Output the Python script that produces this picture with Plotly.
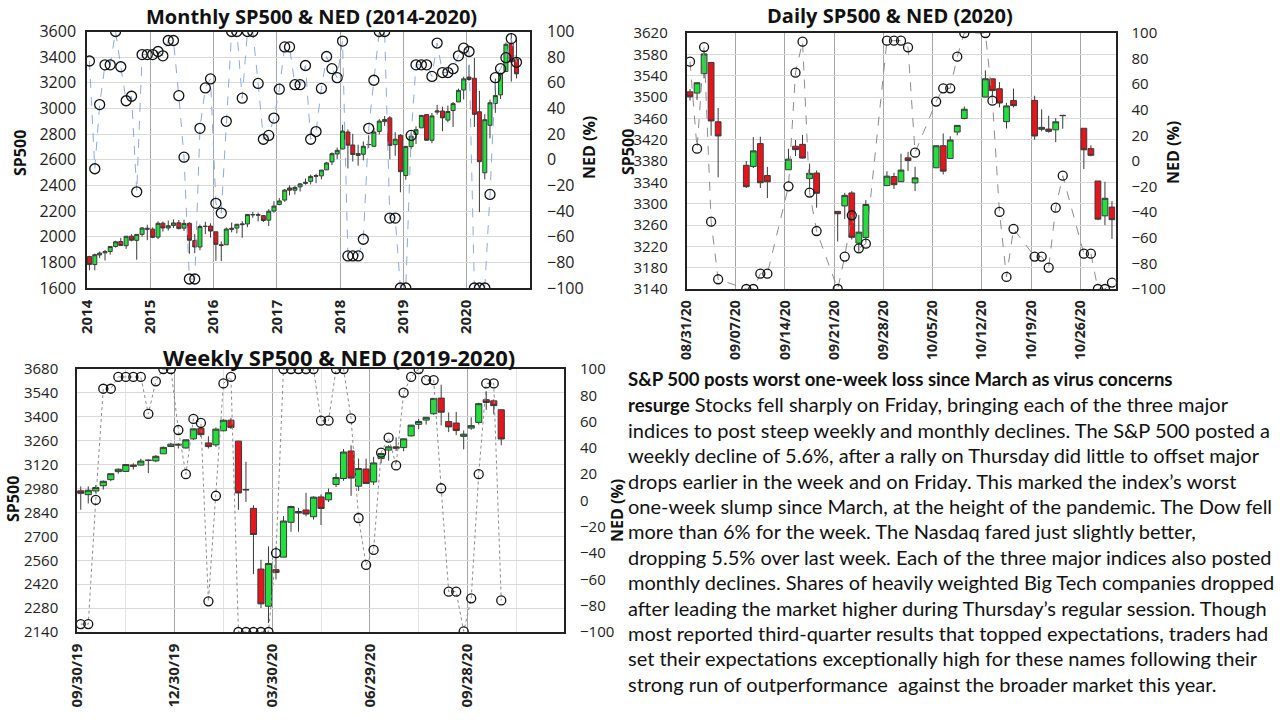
import plotly.graph_objects as go
import pandas as pd

W, H = 1280, 720

# ---------------- Monthly data (2014-01 .. 2020-10) ----------------
m_months = pd.date_range("2014-01-01", "2020-10-01", freq="MS")
m_open = [1845.9, 1782.7, 1857.7, 1873.9, 1884.4, 1923.9, 1962.3, 1929.8, 2004.1, 1971.4, 2018.2, 2065.8,
          2058.9, 1996.7, 2105.2, 2067.6, 2087.4, 2108.6, 2067.0, 2104.5, 1970.1, 1919.7, 2080.8, 2082.9,
          2038.2, 1936.9, 1937.1, 2056.6, 2067.2, 2093.9, 2099.3, 2173.1, 2171.3, 2164.3, 2129.0, 2200.2,
          2251.6, 2285.6, 2380.1, 2362.3, 2388.5, 2415.6, 2431.4, 2477.1, 2474.4, 2521.2, 2583.2, 2645.1,
          2683.7, 2816.5, 2715.2, 2633.5, 2643.0, 2718.7, 2705.0, 2821.2, 2897.0, 2926.3, 2717.6, 2790.5,
          2477.0, 2702.3, 2798.2, 2848.6, 2952.3, 2751.5, 2971.4, 2980.3, 2909.0, 2983.7, 3050.7, 3143.9,
          3244.7, 3235.7, 2974.3, 2498.1, 2869.1, 3038.8, 3105.9, 3288.3, 3507.4, 3385.9]
m_high = [1850.8, 1867.9, 1883.9, 1897.3, 1924.0, 1968.2, 1991.4, 2005.0, 2019.3, 2018.2, 2075.8, 2093.6,
          2072.4, 2119.6, 2117.5, 2125.9, 2134.7, 2129.9, 2132.8, 2112.7, 2020.9, 2094.3, 2116.5, 2104.3,
          2038.2, 1963.0, 2072.2, 2111.1, 2099.7, 2120.6, 2177.1, 2193.8, 2187.9, 2169.6, 2214.1, 2277.5,
          2301.0, 2371.5, 2401.0, 2398.2, 2418.7, 2453.8, 2484.0, 2490.9, 2519.4, 2583.0, 2657.7, 2695.0,
          2872.9, 2836.0, 2801.9, 2717.5, 2742.2, 2791.5, 2848.0, 2916.5, 2940.9, 2939.9, 2815.2, 2800.2,
          2708.0, 2813.5, 2860.3, 2949.5, 2954.1, 2964.2, 3028.0, 3013.6, 3022.0, 3050.1, 3154.3, 3247.9,
          3337.8, 3393.5, 3136.7, 2954.9, 3068.7, 3233.1, 3280.0, 3514.8, 3588.1, 3549.9]
m_low = [1737.9, 1737.9, 1834.4, 1814.4, 1859.8, 1915.0, 1930.7, 1904.8, 1964.0, 1820.7, 2001.0, 1972.6,
         1988.1, 1980.9, 2039.7, 2048.4, 2067.9, 2056.3, 2044.0, 1867.0, 1871.9, 1893.7, 2019.4, 1993.3,
         1812.3, 1810.1, 1937.1, 2033.8, 2025.9, 1991.7, 2074.0, 2147.6, 2119.1, 2114.7, 2083.8, 2187.4,
         2245.1, 2271.7, 2322.3, 2329.0, 2352.7, 2405.7, 2407.7, 2417.4, 2446.6, 2520.4, 2557.4, 2605.5,
         2682.4, 2532.7, 2585.9, 2553.8, 2594.6, 2692.0, 2699.0, 2796.3, 2864.1, 2603.5, 2631.1, 2346.6,
         2444.0, 2681.8, 2722.3, 2848.6, 2750.5, 2728.8, 2952.2, 2822.1, 2891.9, 2855.9, 3050.7, 3070.3,
         3214.6, 2855.8, 2191.9, 2447.5, 2766.6, 2965.7, 3073.2, 3284.5, 3209.5, 3233.9]
m_close = [1782.6, 1859.5, 1872.3, 1883.9, 1923.6, 1960.2, 1930.7, 2003.4, 1972.3, 2018.1, 2067.6, 2058.9,
           1995.0, 2104.5, 2067.9, 2085.5, 2107.4, 2063.1, 2103.8, 1972.2, 1920.0, 2079.4, 2080.4, 2043.9,
           1940.2, 1932.2, 2059.7, 2065.3, 2097.0, 2098.9, 2173.6, 2171.0, 2168.3, 2126.2, 2198.8, 2238.8,
           2278.9, 2363.6, 2362.7, 2384.2, 2411.8, 2423.4, 2470.3, 2471.7, 2519.4, 2575.3, 2647.6, 2673.6,
           2823.8, 2713.8, 2640.9, 2648.1, 2705.3, 2718.4, 2816.3, 2901.5, 2914.0, 2711.7, 2760.2, 2506.9,
           2704.1, 2784.5, 2834.4, 2945.8, 2752.1, 2941.8, 2980.4, 2926.5, 2976.7, 3037.6, 3141.0, 3230.8,
           3225.5, 2954.2, 2584.6, 2912.4, 3044.3, 3100.3, 3271.1, 3500.3, 3363.0, 3270.0]
m_ned = [77, -7, 43, 74, 74, 100, 72.5, 46, 49.5, -25, 82, 82,
         82, 84.4, 81, 93, 93, 50, 2, -93, -93, 24.5, 56, 63,
         -34, -41.6, 30, 100, 100, 48, 100, 100, 59.5, 16, 19, 32.5,
         55, 88, 88, 58.5, 58.5, 73.5, 16, 22, 55.6, 80.5, 71, 64,
         92.5, -75, -75, -75, -62, 24.5, 62, 100, 100, -45.5, -45.5, -100,
         -100, 19, 74, 74, 74, 65, 91, 68, 68, 71, 81, 87,
         84.4, -100, -100, -100, -27, 64, 71, 79.6, 94.5, 76]
m_x = m_months + pd.Timedelta(days=14)
m_years = ["2014", "2015", "2016", "2017", "2018", "2019", "2020"]

# ---------------- Daily data (2020-08-31 .. 2020-10-30) ----------------
d_dates = ["2020-08-31", "2020-09-01", "2020-09-02", "2020-09-03", "2020-09-04",
           "2020-09-08", "2020-09-09", "2020-09-10", "2020-09-11",
           "2020-09-14", "2020-09-15", "2020-09-16", "2020-09-17", "2020-09-18",
           "2020-09-21", "2020-09-22", "2020-09-23", "2020-09-24", "2020-09-25",
           "2020-09-28", "2020-09-29", "2020-09-30", "2020-10-01", "2020-10-02",
           "2020-10-05", "2020-10-06", "2020-10-07", "2020-10-08", "2020-10-09",
           "2020-10-12", "2020-10-13", "2020-10-14", "2020-10-15", "2020-10-16",
           "2020-10-19", "2020-10-20", "2020-10-21", "2020-10-22", "2020-10-23",
           "2020-10-26", "2020-10-27", "2020-10-28", "2020-10-29", "2020-10-30"]
d_open = [3509.7, 3507.4, 3543.8, 3564.7, 3453.6,
          3371.9, 3369.8, 3412.6, 3352.7,
          3363.6, 3407.7, 3411.2, 3346.9, 3357.4,
          3285.6, 3295.8, 3320.1, 3226.1, 3236.7,
          3333.9, 3350.9, 3341.2, 3385.9, 3338.9,
          3367.3, 3408.7, 3384.6, 3434.3, 3459.7,
          3500.0, 3534.0, 3515.5, 3453.7, 3493.5,
          3493.7, 3439.4, 3439.9, 3438.5, 3464.9,
          3441.4, 3403.2, 3342.5, 3277.2, 3293.6]
d_high = [3514.8, 3528.0, 3588.1, 3564.9, 3479.2,
          3380.0, 3424.8, 3425.6, 3369.0,
          3402.9, 3419.5, 3428.9, 3375.2, 3362.3,
          3285.6, 3320.3, 3323.4, 3278.7, 3306.9,
          3360.7, 3357.9, 3393.6, 3397.2, 3369.1,
          3409.6, 3431.6, 3426.3, 3447.3, 3482.3,
          3549.9, 3534.0, 3527.9, 3489.1, 3515.8,
          3502.4, 3476.9, 3464.9, 3460.5, 3466.5,
          3441.4, 3409.5, 3342.5, 3341.1, 3304.9]
d_low = [3493.3, 3494.6, 3535.2, 3427.4, 3349.6,
         3329.3, 3366.8, 3329.3, 3310.5,
         3363.6, 3389.3, 3384.5, 3328.8, 3292.4,
         3229.1, 3271.0, 3232.6, 3209.5, 3228.4,
         3332.9, 3327.5, 3340.5, 3361.4, 3323.7,
         3367.3, 3354.5, 3384.6, 3428.2, 3458.1,
         3499.6, 3500.9, 3480.6, 3440.9, 3480.5,
         3419.9, 3435.7, 3433.1, 3415.3, 3440.5,
         3364.9, 3388.7, 3268.9, 3259.8, 3233.9]
d_close = [3500.3, 3526.7, 3580.8, 3455.1, 3427.0,
           3331.8, 3399.0, 3339.2, 3341.0,
           3383.5, 3401.2, 3385.5, 3357.0, 3319.5,
           3281.1, 3315.6, 3236.9, 3246.6, 3298.5,
           3351.6, 3335.5, 3363.0, 3380.8, 3348.4,
           3408.6, 3361.0, 3419.4, 3446.8, 3477.1,
           3534.2, 3511.9, 3488.7, 3483.3, 3483.8,
           3426.9, 3443.1, 3435.6, 3453.5, 3465.4,
           3401.0, 3390.7, 3271.0, 3310.1, 3270.0]
d_ned = [77.6, 9.6, 89, -47.4, -92.4,
         -100, -100, -88, -88,
         -19.8, 69, 93.2, -24.7, -54.7,
         -100, -74.7, -42.4, -68.2, -64.6,
         94, 94, 94, 88.8, 6.5,
         46.4, 56.8, 56.8, 81.5, 100,
         100, 47.1, -39.8, -90.6, -53,
         -74.7, -74.7, -83.3, -36.5, -11.5,
         -72.4, -72.4, -100, -100, -95]
d_x = pd.to_datetime(d_dates) + pd.Timedelta(hours=12)

# ---------------- Weekly data (week of 2019-09-30 .. 2020-10-26) ----------------
w_weeks = pd.date_range("2019-09-30", "2020-10-26", freq="7D")
w_open = [2967.1, 2944.2, 2965.8, 2996.5, 3032.1, 3079.0, 3080.3, 3117.9, 3117.4, 3143.9, 3141.9, 3183.6, 3226.1,
          3240.1, 3217.6, 3271.1, 3333.1, 3247.2, 3235.7, 3318.3, 3380.4, 3257.6, 2974.3, 2863.9, 2508.6, 2290.7,
          2505.0, 2578.3, 2782.5, 2845.6, 2854.7, 2815.0, 2930.9, 2913.9, 3004.1, 3038.8, 3199.9, 2993.8, 3094.4,
          3018.6, 3155.3, 3205.1, 3224.3, 3219.8, 3288.3, 3356.0, 3380.9, 3418.1, 3509.7, 3371.9, 3363.6, 3285.6,
          3333.9, 3367.3, 3500.0, 3493.7, 3441.4]
w_high = [2992.5, 2993.3, 3000.4, 3027.4, 3067.0, 3097.8, 3120.5, 3127.6, 3154.3, 3150.6, 3176.3, 3225.6, 3247.9,
          3244.7, 3267.1, 3329.9, 3337.8, 3285.9, 3337.6, 3385.1, 3393.5, 3259.8, 3136.7, 2882.6, 2563.0, 2641.4,
          2641.4, 2818.6, 2879.2, 2867.0, 2954.9, 2934.3, 2945.8, 2980.3, 3068.7, 3211.7, 3233.1, 3155.5, 3155.0,
          3165.8, 3184.1, 3233.5, 3279.3, 3272.0, 3352.5, 3387.9, 3399.5, 3509.4, 3588.1, 3425.6, 3428.9, 3320.3,
          3397.2, 3482.3, 3549.9, 3502.4, 3441.4]
w_low = [2855.9, 2892.7, 2952.1, 2974.1, 3023.2, 3066.9, 3077.0, 3091.4, 3115.4, 3070.3, 3134.6, 3183.6, 3223.5,
         3214.6, 3213.4, 3263.6, 3281.5, 3214.6, 3223.6, 3315.2, 3328.5, 2855.8, 2901.5, 2478.9, 2280.5, 2191.9,
         2447.5, 2578.3, 2727.1, 2727.1, 2816.8, 2797.9, 2766.6, 2900.8, 2988.2, 3025.2, 2936.9, 2965.7, 3008.9,
         3000.9, 3127.7, 3142.9, 3200.0, 3198.6, 3284.5, 3327.2, 3354.7, 3411.5, 3349.6, 3310.5, 3292.4, 3209.5,
         3323.7, 3354.5, 3440.9, 3415.3, 3233.9]
w_close = [2952.0, 2970.3, 2986.2, 3022.6, 3066.9, 3093.1, 3120.5, 3110.3, 3141.0, 3146.0, 3168.8, 3221.2, 3240.0,
           3234.9, 3265.4, 3329.6, 3295.5, 3225.5, 3327.7, 3380.2, 3337.8, 2954.2, 2972.4, 2711.0, 2304.9, 2541.5,
           2488.7, 2789.8, 2874.6, 2836.7, 2830.7, 2929.8, 2863.7, 2955.5, 3044.3, 3193.9, 3041.3, 3097.7, 3009.1,
           3130.0, 3185.0, 3224.7, 3215.6, 3271.1, 3351.3, 3372.9, 3397.2, 3508.0, 3427.0, 3341.0, 3319.5, 3298.5,
           3348.4, 3477.1, 3483.8, 3465.4, 3270.0]
w_ned = [-94, -94, 0.4, 85, 85, 94, 94, 94, 94, 65.8, 90.6, 100, 100,
         53.6, 20, 62, 59, -76.7, 3.6, 89, 94, -100, -100, -100, -100, -100,
         -40, 100, 100, 100, 100, 100, 60.7, 60.7, 100, 100, 62.5, -13.3, -49,
         -37.6, 36.4, 47.8, 26.7, 82, 94, 100, 91.6, 91.6, 9.3, -69.3, -69.3, -99.5,
         -74.4, 20, 89, 89, -76]
w_x = w_weeks + pd.Timedelta(hours=84)

# ---------------- Text block ----------------
B = '<span style="font-size:18.6px"><b>{}</b></span>'
text_lines = [
    B.format("S&amp;P 500 posts worst one-week loss since March as virus concerns"),
    B.format("resurge") + " Stocks fell sharply on Friday, bringing each of the three major",
    "indices to post steep weekly and monthly declines. The S&amp;P 500 posted a",
    "weekly decline of 5.6%, after a rally on Thursday did little to offset major",
    "drops earlier in the week and on Friday. This marked the index\u2019s worst",
    "one-week slump since March, at the height of the pandemic. The Dow fell",
    "more than 6% for the week. The Nasdaq fared just slightly better,",
    "dropping 5.5% over last week. Each of the three major indices also posted",
    "monthly declines. Shares of heavily weighted Big Tech companies dropped",
    "after leading the market higher during Thursday\u2019s regular session. Though",
    "most reported third-quarter results that topped expectations, traders had",
    "set their expectations exceptionally high for these names following their",
    "strong run of outperformance  against the broader market this year.",
]

# ---------------- helpers ----------------
def px_x(v):
    return v / W

def px_y(v):
    return 1 - v / H

GREEN = "#22e03c"
RED = "#e8141b"
EDGE = "#3a3a3a"
FONT = "Open Sans"

def candle(x, o, h, l, c, xa, ya):
    return go.Candlestick(
        x=x, open=o, high=h, low=l, close=c, xaxis=xa, yaxis=ya,
        increasing=dict(fillcolor=GREEN, line=dict(color=EDGE, width=1)),
        decreasing=dict(fillcolor=RED, line=dict(color=EDGE, width=1)),
        whiskerwidth=0, showlegend=False, hoverinfo="skip")

def nedline(x, y, xa, ya, color, dash, size):
    return go.Scatter(
        x=x, y=y, xaxis=xa, yaxis=ya, mode="lines+markers",
        line=dict(color=color, width=1, dash=dash),
        marker=dict(symbol="circle-open", size=size, color="#111111", line=dict(width=1.3)),
        showlegend=False, hoverinfo="skip")

fig = go.Figure()
fig.add_trace(candle(m_x, m_open, m_high, m_low, m_close, "x", "y"))
fig.add_trace(nedline(m_x, m_ned, "x", "y2", "#8eaadb", "dash", 10))
fig.add_trace(candle(d_x, d_open, d_high, d_low, d_close, "x2", "y3"))
fig.add_trace(nedline(d_x, d_ned, "x2", "y4", "#8c8c8c", "dash", 9))
fig.add_trace(candle(w_x, w_open, w_high, w_low, w_close, "x3", "y5"))
fig.add_trace(nedline(w_x, w_ned, "x3", "y6", "#8c8c8c", "dot", 9))

tickf = dict(family=FONT, size=15, color="#222222")
xtickf = dict(family=FONT, size=14, color="#222222", weight="bold")

def xaxis(dom, yanchor, **kw):
    d = dict(domain=[px_x(dom[0]), px_x(dom[1])], anchor=yanchor, type="date",
             showgrid=True, gridcolor="#a6a6a6", gridwidth=1,
             showline=True, linecolor="#222222", linewidth=1.5, mirror=True,
             ticks="", tickangle=-90, tickfont=xtickf, ticklabelstandoff=4,
             rangeslider=dict(visible=False), zeroline=False, automargin=False)
    d.update(kw)
    return d

def yaxis(dom, xanchor, rng, dtick, **kw):
    d = dict(domain=[px_y(dom[1]), px_y(dom[0])], anchor=xanchor, range=rng,
             tick0=rng[0], dtick=dtick,
             showgrid=True, gridcolor="#d9d9d9", gridwidth=1,
             showline=True, linecolor="#222222", linewidth=1.5, mirror=True,
             ticks="", tickfont=tickf, zeroline=False, automargin=False)
    d.update(kw)
    return d

def yned(over, xanchor, standoff, fs=15):
    return dict(overlaying=over, side="right", anchor=xanchor, range=[-100, 100],
                tick0=-100, dtick=20,
                showgrid=False, showline=False, zeroline=False, ticks="",
                tickfont=dict(family=FONT, size=fs, color="#222222"),
                ticklabelstandoff=standoff, automargin=False)

fig.update_layout(
    width=W, height=H, autosize=False,
    margin=dict(l=0, r=0, t=0, b=0),
    paper_bgcolor="white", plot_bgcolor="white",
    font=dict(family=FONT, color="#222222"),
    boxgap=0.18, boxgroupgap=0,
    xaxis=xaxis((87, 530), "y", range=["2014-01-01", "2021-01-01"],
                tickvals=[f"{y}-01-01" for y in m_years], ticktext=m_years,
                tickfont=dict(family=FONT, size=15, color="#222222", weight="bold")),
    yaxis=yaxis((31.5, 288), "x", [1600, 3600], 200, ticklabelstandoff=6,
                tickfont=dict(family=FONT, size=16, color="#222222")),
    yaxis2=yned("y", "x", 16, 16),
    xaxis2=xaxis((686.5, 1115.5), "y3", range=["2020-08-31", "2020-10-31"],
                 tick0="2020-08-31", dtick=7 * 86400000, tickformat="%m/%d/%y"),
    yaxis3=yaxis((33, 289), "x2", [3140, 3620], 40, ticklabelstandoff=14),
    yaxis4=yned("y3", "x2", 15),
    xaxis3=xaxis((77, 564), "y5", range=["2019-09-30", "2020-12-27"],
                 tick0="2019-09-30", dtick=91 * 86400000, tickformat="%m/%d/%y",
                 tickfont=dict(family=FONT, size=15, color="#222222", weight="bold"),
                 minor=dict(showgrid=True, gridcolor="#e3e3e3", tick0="2019-09-30",
                            dtick=int(45.5 * 86400000))),
    yaxis5=yaxis((369, 632), "x3", [2140, 3680], 140, ticklabelstandoff=14),
    yaxis6=yned("y5", "x3", 15),
)

ann = []
def label(text, x, y, size, angle=0, xanchor="center"):
    ann.append(dict(text=text, x=px_x(x), y=px_y(y), xref="paper", yref="paper",
                    showarrow=False, textangle=angle, xanchor=xanchor, yanchor="middle",
                    font=dict(family=FONT, size=size, color="#111111", weight="bold")))

label("Monthly SP500 &amp; NED (2014-2020)", 311, 16, 20)
label("Daily SP500 &amp; NED (2020)", 890, 15, 20)
label("Weekly SP500 &amp; NED (2019-2020)", 339, 357, 22)
label("SP500", 20, 153, 16, -90)
label("NED (%)", 589, 148, 16, -90)
label("SP500", 628, 152, 16, -90)
label("NED (%)", 1173, 153, 16, -90)
label("SP500", 13, 499, 16, -90)
label("NED (%)", 617, 511, 16, -90)

for i, t in enumerate(text_lines):
    ann.append(dict(text=t, x=px_x(626), y=px_y(379 + i * 25.4), xref="paper", yref="paper",
                    showarrow=False, xanchor="left", yanchor="middle", align="left",
                    font=dict(family="Lato", size=20, color="#111111")))

fig.update_layout(annotations=ann)
fig.write_html("out.html", config={"displayModeBar": False},
               post_script="document.body.style.margin='0';")
